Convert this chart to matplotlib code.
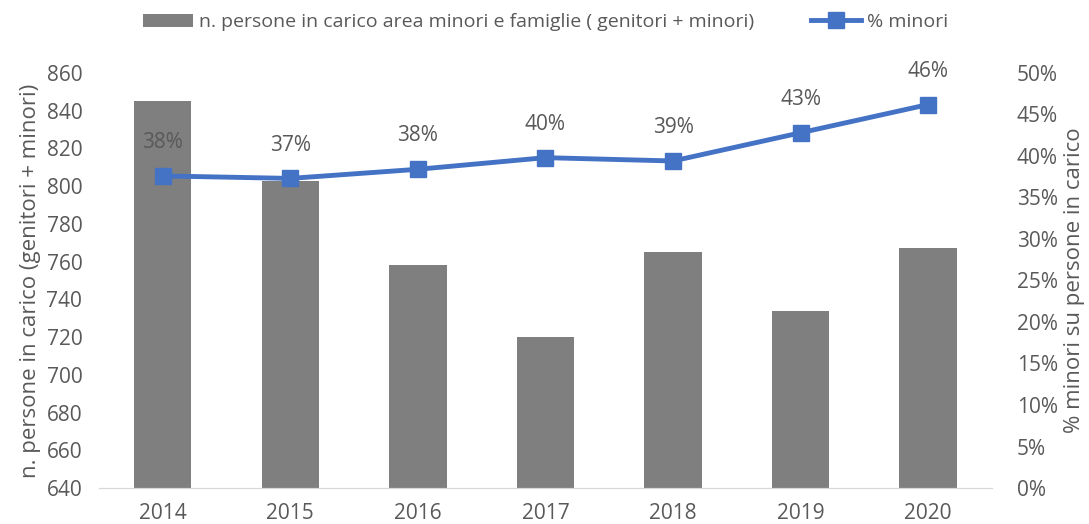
import matplotlib.pyplot as plt
from matplotlib.ticker import FuncFormatter

plt.rcParams['font.family'] = ['Open Sans', 'DejaVu Sans']

years = ['2014', '2015', '2016', '2017', '2018', '2019', '2020']
persone = [845, 803, 758, 720, 765, 734, 767]
pct_minori = [37.6, 37.3, 38.4, 39.8, 39.4, 42.8, 46.2]

grey_text = '#595959'
bar_color = '#7f7f7f'
line_color = '#4472c4'

fig = plt.figure(figsize=(10.89, 5.24), dpi=100)
ax = fig.add_axes([0.0909, 0.0687, 0.820, 0.792])
x = range(len(years))

bars = ax.bar(x, persone, width=0.45, color=bar_color,
              label='n. persone in carico area minori e famiglie ( genitori + minori)')
ax.set_ylim(640, 860)
ax.set_yticks(range(640, 861, 20))
ax.set_xlim(-0.5, len(years) - 0.5)
ax.set_xticks(list(x))
ax.set_xticklabels(years)
ax.set_ylabel('n. persone in carico (genitori + minori)', fontsize=16, color=grey_text,
              labelpad=4)

ax2 = ax.twinx()
line, = ax2.plot(x, pct_minori, color=line_color, lw=3.5, marker='s', ms=11,
                 label='% minori')
ax2.set_ylim(0, 50)
ax2.set_yticks(range(0, 51, 5))
ax2.yaxis.set_major_formatter(FuncFormatter(lambda v, p: f'{v:.0f}%'))
ax2.set_ylabel('% minori su persone in carico', fontsize=16, color=grey_text, labelpad=4)

# etichette percentuali sopra i marker
for xi, v in zip(x, pct_minori):
    ax2.annotate(f'{round(v):.0f}%', (xi, v), xytext=(0, 24), textcoords='offset points',
                 ha='center', va='center', fontsize=15, color=grey_text)

for a in (ax, ax2):
    for s in ['top', 'left', 'right']:
        a.spines[s].set_visible(False)
    a.spines['bottom'].set_color('#d9d9d9')
    a.tick_params(axis='both', length=0, labelsize=15, colors=grey_text)
ax.tick_params(axis='y', pad=12)
ax.tick_params(axis='x', pad=11)
ax2.tick_params(axis='y', pad=18)

ax.legend([bars, line], [bars.get_label(), line.get_label()], loc='center',
          bbox_to_anchor=(0.5, 1.123), ncol=2, frameon=False, fontsize=14,
          labelcolor=grey_text, handlelength=2.6, handleheight=0.65,
          handletextpad=0.3, columnspacing=2.9)

fig.savefig('out.png', dpi=100)
